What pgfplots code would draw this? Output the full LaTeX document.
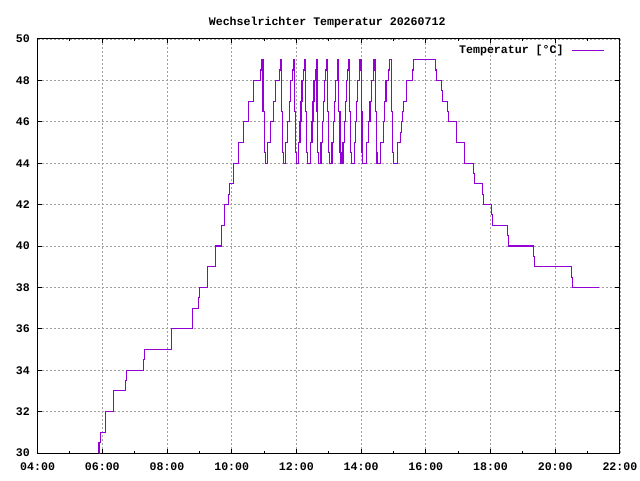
\documentclass[border=0pt]{standalone}
\usepackage{fontspec}
\setmainfont{Liberation Mono}
\usepackage{pgfplots}
\pgfplotsset{compat=1.18}
\definecolor{gpviolet}{HTML}{9400D3}
\definecolor{gridgray}{RGB}{160,160,160}
\newcommand{\gpfont}{\fontsize{11.6}{13}\selectfont\bfseries}
\begin{document}
\begin{tikzpicture}[x=1pt,y=1pt]
\useasboundingbox (0,0) rectangle (640,480);
\node[font=\gpfont, anchor=base] at (327.2,454.3) {Wechselrichter Temperatur 20260712};
\begin{axis}[
  at={(37.6pt,27pt)}, anchor=south west,
  scale only axis, width=582.3pt, height=414pt,
  xmin=4, xmax=22, ymin=30, ymax=50,
  xtick={4,6,...,22},
  xticklabels={04:00,06:00,08:00,10:00,12:00,14:00,16:00,18:00,20:00,22:00},
  minor xtick={5,7,...,21},
  ytick={30,32,...,50},
  xtick pos=both, ytick pos=both, tick align=inside,
  major tick length=4.5pt, minor tick length=2.5pt,
  xmajorgrids, ymajorgrids,
  major grid style={gridgray, dash pattern=on 2pt off 2pt, line width=0.8pt},
  axis line style={line width=1pt, black},
  every tick/.style={black, line width=1pt},
  /pgf/number format/assume math mode=true,
  tick label style={font=\gpfont},
  xticklabel style={inner sep=0pt, anchor=base, yshift=-17pt},
  yticklabel style={inner sep=0pt, anchor=east, xshift=-7.6pt},
  legend plot pos=right,
  legend image code/.code={\draw[#1] (0pt,0pt) -- (31.6pt,0pt);},
  legend style={draw=none, fill=none, at={(0.9732,0.9727)}, anchor=east,
    inner sep=0pt, outer sep=0pt, column sep=8pt, font=\gpfont,
    nodes={inner sep=0pt}},
]
\addplot[const plot, gpviolet, line width=1.1pt] coordinates {
(5.895,30)(5.898,30.5)(5.938,31)(6.093,32)(6.340,33)(6.711,33.5)(6.742,34)(7.280,34.5)(7.298,35)(8.133,36)(8.782,37)(8.967,37.5)(8.998,38)(9.246,39)(9.493,40)(9.691,41)(9.771,42)(9.895,42.5)(9.926,43)(10.049,44)(10.204,45)(10.359,46)(10.513,47)(10.668,48)(10.896,48.5)(10.927,49)
(10.968,46.5)(11.011,44.5)(11.039,44)
(11.100,45)(11.213,46)(11.281,47)(11.350,48)(11.474,48.5)(11.502,49)(11.533,46.5)(11.570,44.5)(11.595,44)
(11.669,45)(11.735,46)(11.775,47)(11.815,48)(11.888,48.5)(11.904,49)(11.941,46.5)(11.975,44.5)(11.997,44)
(12.059,45)(12.111,46)(12.142,47)(12.174,48)(12.231,48.5)(12.244,49)(12.275,46.5)(12.312,44.5)(12.337,44)
(12.430,45)(12.482,46)(12.513,47)(12.545,48)(12.602,48.5)(12.615,49)(12.637,46.5)(12.665,44.5)(12.683,44)
(12.760,45)(12.806,46)(12.834,47)(12.862,48)(12.913,48.5)(12.924,49)(12.955,46.5)(12.996,44.5)(13.023,44)
(13.100,45)(13.148,46)(13.177,47)(13.206,48)(13.259,48.5)(13.270,49)(13.301,46.5)(13.348,44.5)(13.379,44)
(13.441,45)(13.486,46)(13.514,47)(13.542,48)(13.593,48.5)(13.604,49)(13.635,46.5)(13.680,44.5)(13.709,44)
(13.790,45)(13.839,46)(13.869,47)(13.899,48)(13.954,48.5)(13.966,49)(14.006,46.5)(14.028,44.5)(14.043,44)
(14.173,45)(14.236,46)(14.275,47)(14.313,48)(14.383,48.5)(14.399,49)(14.451,46.5)(14.476,44.5)(14.492,44)
(14.606,45)(14.680,46)(14.726,47)(14.771,48)(14.853,48.5)(14.872,49)(14.934,46.5)(14.971,44.5)(14.995,44)
(15.119,45)(15.212,45.5)(15.243,46)(15.274,46.5)(15.305,47)(15.397,48)(15.583,48.5)(15.614,49)
(16.294,48.5)(16.325,48)(16.492,47.5)(16.510,47)(16.665,46.5)(16.696,46)(16.943,45)(17.190,44)(17.468,43.5)(17.499,43)(17.747,42.5)(17.778,42)(18.025,41.5)(18.056,41)(18.519,40.5)(18.550,40)(19.323,39.5)(19.354,39)(20.498,38.5)(20.529,38)(21.345,38)
};
\addlegendentry{Temperatur [°C]}
\end{axis}
\end{tikzpicture}
\end{document}
